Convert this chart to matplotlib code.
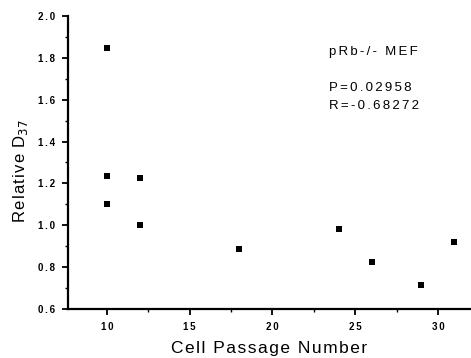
import matplotlib
matplotlib.use("Agg")
import matplotlib.pyplot as plt
from matplotlib.ticker import MultipleLocator

# Cell passage number vs relative D37
passage = [10, 10, 10, 12, 12, 18, 24, 26, 29, 31]
rel_d37 = [1.845, 1.235, 1.10, 1.225, 1.00, 0.885, 0.98, 0.825, 0.715, 0.92]

x_ticks = [10, 15, 20, 25, 30]
y_ticks = [0.6, 0.8, 1.0, 1.2, 1.4, 1.6, 1.8, 2.0]

title_text = "pRb-/- MEF"
p_text = "P=0.02958"
r_text = "R=-0.68272"

plt.rcParams['font.family'] = ['Liberation Sans', 'DejaVu Sans']

HAIR = "\u200a"


def spaced(s, n=1):
    """Open up the letter spacing a little."""
    return (HAIR * n).join(s)


fig = plt.figure(figsize=(4.71, 3.58), dpi=100)
ax = fig.add_axes([68 / 471, 1 - 309 / 358, 1 - 68 / 471, (309 - 16) / 358])

ax.scatter(passage, rel_d37, marker='s', s=24, color='black', linewidths=0, zorder=3)

ax.set_xlim(7.65, 32.0)
ax.set_ylim(0.6, 2.0)
ax.set_xticks(x_ticks)
ax.set_xticklabels([spaced(str(v), 2) for v in x_ticks])
ax.set_yticks(y_ticks)
ax.set_yticklabels([spaced(f"{v:.1f}", 2) for v in y_ticks])
ax.xaxis.set_minor_locator(MultipleLocator(2.5))
ax.yaxis.set_minor_locator(MultipleLocator(0.1))

for side in ('top', 'right'):
    ax.spines[side].set_visible(False)
for side in ('left', 'bottom'):
    ax.spines[side].set_linewidth(1.6)

ax.tick_params(axis='y', which='major', direction='out', length=4.5, width=1.3,
               labelsize=7, pad=5)
ax.tick_params(axis='x', which='major', direction='out', length=4, width=1.3,
               labelsize=7, pad=5)
ax.tick_params(axis='both', which='minor', direction='out', length=2.5, width=1.0)
for lbl in ax.get_xticklabels() + ax.get_yticklabels():
    lbl.set_fontweight('bold')

ax.set_xlabel(spaced("Cell Passage Number"), fontsize=12.5)
ax.xaxis.label.set_va('baseline')
ax.xaxis.set_label_coords(0.5, (309 - 353.3) / 293)

ax.set_ylabel(spaced("Relative ") + "D$_{37}$", fontsize=12)
ax.yaxis.label.set_va('baseline')
ax.yaxis.set_label_coords((25 - 68) / 403, 0.47)

ax.text(23.43, 1.815, spaced(title_text, 2), fontsize=9.5, va='baseline', ha='left')
ax.text(23.43, 1.643, spaced(p_text, 2), fontsize=9.5, va='baseline', ha='left')
ax.text(23.43, 1.556, spaced(r_text, 2), fontsize=9.5, va='baseline', ha='left')

fig.savefig("out.png", dpi=100)
